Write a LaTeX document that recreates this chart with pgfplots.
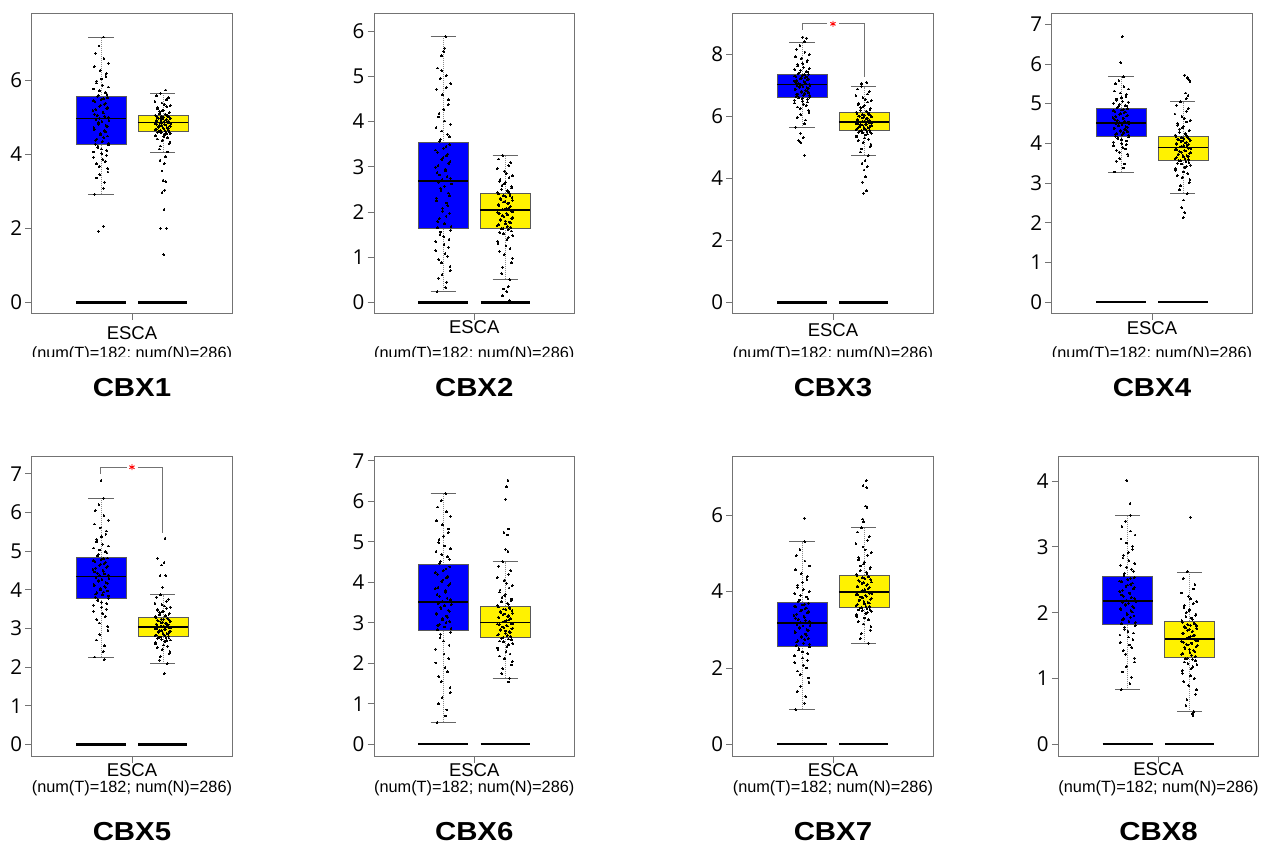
\documentclass[border=0pt]{standalone}
\usepackage{fontspec}
\setmainfont{Liberation Sans}
\newfontfamily\tickfont{Open Sans}
\usepackage{graphicx}
\usepackage{pgfplots}
\usepackage{pgfplotstable}
\pgfplotsset{compat=1.18}
\usepgfplotslibrary{statistics}

% each row: one series (d,e,d2,e2 = horizontal jitter; tK/uK = tumour values, nK/vK = normal values of panel K)
\pgfplotstableread[header=false]{
d -0.031 0.018 -0.006 0.034 -0.022 0.009 0.027 -0.038 0.002 -0.015 0.039 -0.027 0.014 -0.002 0.023 -0.034 0.031 -0.011 0.005 -0.025 0.036 -0.019 0.011 -0.040 0.028 -0.008 0.016 -0.030 0.001 0.033 -0.014 0.021 -0.036 0.007 -0.021 0.025 -0.004 0.037 -0.028 0.013
e 0.022 -0.013 0.035 -0.029 0.004 -0.037 0.017 -0.008 0.030 -0.020 0.010 -0.033 0.026 0.000 -0.024 0.038 -0.016 0.008 -0.039 0.029 -0.005 0.020 -0.031 0.013 -0.010 0.036 -0.026 0.003 0.024 -0.035 0.015 -0.018 0.032 -0.003 -0.028 0.019 0.006 -0.040 0.027 -0.012
d2 0.012 -0.024 0.035 -0.009 0.021 -0.037 0.004 0.029 -0.016 0.038 -0.029 0.007 -0.020 0.032 -0.003 0.017 -0.035 0.025 -0.012 0.040 -0.006 0.019 -0.031 0.010 -0.026 0.034 -0.001 0.023 -0.039 0.014 -0.018 0.030 -0.007 0.036 -0.023 0.003 0.026 -0.033 0.015 -0.010
e2 -0.018 0.031 -0.004 0.024 -0.036 0.009 0.037 -0.027 0.015 -0.011 0.028 -0.039 0.002 0.020 -0.023 0.033 -0.007 0.012 -0.030 0.039 -0.014 0.005 0.026 -0.034 0.017 -0.001 -0.021 0.034 -0.009 0.022 -0.038 0.011 0.030 -0.016 0.001 -0.026 0.036 -0.005 0.018 -0.032
t1 2.92 3.24 3.45 3.61 3.74 3.86 3.97 4.06 4.14 4.22 4.30 4.37 4.45 4.52 4.60 4.67 4.74 4.81 4.88 4.94 4.99 5.05 5.11 5.17 5.23 5.29 5.35 5.41 5.47 5.52 5.59 5.67 5.76 5.86 5.97 6.10 6.26 6.45 6.72 7.16
u1 3.08 3.36 3.52 3.67 3.80 3.92 4.01 4.10 4.18 4.25 4.27 4.34 4.41 4.49 4.56 4.63 4.71 4.78 4.85 4.91 4.97 5.02 5.08 5.14 5.20 5.26 5.32 5.38 5.44 5.50 5.56 5.62 5.71 5.81 5.92 6.03 6.17 6.36 6.58 6.92
n1 4.06 4.22 4.33 4.41 4.47 4.51 4.55 4.58 4.60 4.62 4.64 4.66 4.69 4.71 4.73 4.75 4.78 4.80 4.82 4.84 4.86 4.88 4.90 4.92 4.94 4.96 4.98 5.00 5.02 5.03 5.06 5.09 5.13 5.17 5.22 5.28 5.34 5.42 5.52 5.64
v1 4.14 4.28 4.37 4.44 4.49 4.53 4.56 4.59 4.61 4.63 4.65 4.67 4.70 4.72 4.74 4.76 4.77 4.79 4.81 4.83 4.85 4.87 4.89 4.91 4.93 4.95 4.97 4.99 5.01 5.04 5.05 5.08 5.11 5.15 5.19 5.25 5.31 5.38 5.47 5.58
t2 0.24 0.45 0.62 0.80 0.95 1.08 1.22 1.35 1.46 1.56 1.68 1.79 1.91 2.02 2.14 2.25 2.36 2.47 2.57 2.66 2.74 2.82 2.91 2.99 3.07 3.16 3.24 3.32 3.41 3.49 3.60 3.72 3.86 4.01 4.18 4.37 4.59 4.84 5.18 5.87
u2 0.33 0.54 0.71 0.88 1.02 1.15 1.28 1.40 1.51 1.60 1.65 1.74 1.85 1.97 2.08 2.20 2.31 2.42 2.52 2.62 2.71 2.78 2.87 2.95 3.03 3.12 3.20 3.28 3.37 3.45 3.56 3.66 3.79 3.94 4.10 4.27 4.48 4.71 5.01 5.45
n2 0.51 0.78 0.98 1.13 1.25 1.35 1.44 1.52 1.58 1.63 1.68 1.72 1.76 1.80 1.84 1.88 1.92 1.96 1.99 2.02 2.06 2.10 2.14 2.18 2.22 2.26 2.30 2.34 2.37 2.40 2.45 2.50 2.56 2.62 2.68 2.76 2.85 2.96 3.09 3.25
v2 0.64 0.88 1.06 1.19 1.30 1.40 1.48 1.55 1.61 1.64 1.66 1.70 1.74 1.78 1.82 1.86 1.90 1.94 1.97 2.01 2.05 2.08 2.12 2.16 2.20 2.24 2.28 2.32 2.36 2.41 2.43 2.47 2.53 2.59 2.65 2.72 2.80 2.90 3.02 3.17
t3 5.65 5.88 6.05 6.19 6.30 6.39 6.46 6.52 6.57 6.61 6.66 6.70 6.74 6.78 6.82 6.86 6.90 6.94 6.97 7.00 7.04 7.07 7.11 7.14 7.18 7.21 7.25 7.28 7.32 7.35 7.40 7.45 7.51 7.58 7.66 7.75 7.86 7.99 8.16 8.40
u3 5.76 5.97 6.12 6.25 6.35 6.43 6.49 6.55 6.59 6.62 6.64 6.68 6.72 6.76 6.80 6.84 6.88 6.92 6.96 6.99 7.03 7.06 7.09 7.12 7.16 7.20 7.23 7.27 7.30 7.34 7.38 7.43 7.48 7.54 7.62 7.70 7.80 7.92 8.07 8.28
n3 4.74 4.95 5.10 5.21 5.30 5.37 5.43 5.47 5.51 5.53 5.57 5.60 5.63 5.65 5.68 5.70 5.73 5.75 5.77 5.79 5.83 5.86 5.89 5.92 5.95 5.98 6.01 6.04 6.07 6.10 6.15 6.20 6.25 6.31 6.38 6.46 6.55 6.66 6.80 6.96
v3 4.85 5.03 5.16 5.26 5.34 5.40 5.45 5.49 5.52 5.54 5.56 5.58 5.61 5.64 5.66 5.69 5.72 5.74 5.76 5.80 5.82 5.85 5.88 5.90 5.93 5.97 6.00 6.03 6.06 6.11 6.13 6.17 6.22 6.28 6.34 6.42 6.50 6.60 6.72 6.88
t4 3.28 3.48 3.62 3.73 3.82 3.90 3.97 4.03 4.09 4.14 4.20 4.23 4.27 4.30 4.34 4.37 4.41 4.44 4.47 4.49 4.54 4.58 4.62 4.65 4.69 4.73 4.77 4.80 4.84 4.87 4.92 4.96 5.01 5.06 5.12 5.19 5.27 5.37 5.50 5.68
u4 3.38 3.55 3.68 3.78 3.86 3.94 4.00 4.06 4.12 4.16 4.18 4.22 4.25 4.29 4.32 4.36 4.39 4.42 4.46 4.50 4.52 4.56 4.60 4.64 4.67 4.71 4.75 4.79 4.82 4.86 4.90 4.94 4.99 5.04 5.09 5.15 5.23 5.32 5.43 5.58
n4 2.73 2.93 3.08 3.19 3.28 3.36 3.42 3.48 3.52 3.56 3.61 3.64 3.67 3.70 3.73 3.76 3.79 3.82 3.85 3.88 3.93 3.95 3.98 4.01 4.04 4.07 4.10 4.12 4.15 4.17 4.23 4.28 4.33 4.39 4.46 4.54 4.63 4.74 4.88 5.05
v4 2.83 3.01 3.14 3.24 3.32 3.39 3.45 3.50 3.54 3.57 3.59 3.62 3.66 3.69 3.72 3.75 3.78 3.81 3.84 3.87 3.91 3.94 3.97 4.00 4.03 4.06 4.09 4.11 4.14 4.18 4.21 4.25 4.31 4.36 4.42 4.50 4.58 4.68 4.81 4.96
t5 2.26 2.55 2.84 3.05 3.23 3.38 3.50 3.60 3.68 3.75 3.84 3.89 3.94 4.00 4.06 4.11 4.17 4.22 4.27 4.31 4.38 4.43 4.48 4.53 4.58 4.63 4.68 4.73 4.78 4.82 4.91 4.99 5.08 5.18 5.30 5.44 5.60 5.80 6.05 6.37
u5 2.40 2.70 2.95 3.14 3.30 3.44 3.55 3.64 3.72 3.78 3.81 3.87 3.92 3.97 4.03 4.09 4.14 4.19 4.25 4.30 4.36 4.41 4.46 4.51 4.56 4.61 4.66 4.71 4.76 4.81 4.88 4.95 5.03 5.13 5.24 5.37 5.52 5.70 5.92 6.20
n5 2.09 2.27 2.40 2.50 2.57 2.63 2.68 2.72 2.75 2.77 2.81 2.83 2.86 2.88 2.91 2.93 2.95 2.98 3.00 3.02 3.05 3.08 3.10 3.13 3.15 3.18 3.20 3.23 3.25 3.27 3.32 3.35 3.39 3.43 3.47 3.52 3.58 3.65 3.75 3.87
v5 2.18 2.34 2.45 2.54 2.60 2.66 2.70 2.74 2.76 2.78 2.80 2.82 2.85 2.87 2.90 2.92 2.94 2.97 2.99 3.01 3.04 3.06 3.09 3.11 3.14 3.16 3.19 3.21 3.24 3.26 3.30 3.33 3.37 3.41 3.45 3.49 3.55 3.61 3.70 3.81
t6 0.54 0.85 1.15 1.40 1.68 1.90 2.12 2.35 2.55 2.72 2.86 2.93 3.00 3.07 3.14 3.21 3.28 3.35 3.42 3.48 3.57 3.66 3.75 3.84 3.93 4.02 4.11 4.20 4.29 4.38 4.52 4.63 4.76 4.90 5.06 5.23 5.42 5.63 5.86 6.19
u6 0.70 1.00 1.28 1.55 1.79 2.01 2.23 2.45 2.63 2.77 2.83 2.90 2.96 3.03 3.10 3.17 3.24 3.31 3.38 3.45 3.53 3.61 3.70 3.79 3.88 3.97 4.06 4.15 4.24 4.33 4.47 4.57 4.69 4.83 4.98 5.14 5.32 5.52 5.74 6.02
n6 1.63 1.87 2.04 2.18 2.29 2.38 2.46 2.53 2.58 2.62 2.68 2.72 2.76 2.80 2.83 2.87 2.90 2.94 2.97 2.99 3.04 3.08 3.12 3.16 3.20 3.24 3.28 3.32 3.35 3.39 3.46 3.52 3.59 3.67 3.76 3.86 3.98 4.12 4.29 4.51
v6 1.75 1.96 2.11 2.23 2.33 2.42 2.49 2.55 2.60 2.64 2.66 2.70 2.74 2.78 2.82 2.85 2.89 2.92 2.95 2.98 3.02 3.06 3.10 3.14 3.18 3.22 3.26 3.30 3.34 3.37 3.43 3.49 3.55 3.63 3.71 3.81 3.92 4.05 4.20 4.40
t7 0.91 1.25 1.52 1.74 1.92 2.07 2.20 2.32 2.42 2.51 2.62 2.68 2.74 2.80 2.86 2.92 2.98 3.04 3.10 3.14 3.22 3.27 3.33 3.38 3.44 3.49 3.55 3.60 3.65 3.69 3.78 3.86 3.95 4.05 4.17 4.31 4.47 4.67 4.94 5.31
u7 1.08 1.39 1.63 1.83 2.00 2.14 2.26 2.37 2.47 2.55 2.59 2.65 2.71 2.77 2.83 2.89 2.95 3.01 3.07 3.12 3.19 3.25 3.30 3.36 3.41 3.47 3.52 3.57 3.62 3.67 3.74 3.82 3.90 4.00 4.11 4.24 4.39 4.57 4.80 5.10
n7 2.65 2.90 3.08 3.21 3.31 3.39 3.45 3.50 3.54 3.57 3.62 3.66 3.70 3.74 3.78 3.82 3.86 3.90 3.93 3.96 4.03 4.07 4.12 4.16 4.21 4.25 4.29 4.34 4.38 4.41 4.48 4.55 4.63 4.72 4.83 4.95 5.09 5.25 5.44 5.67
v7 2.77 2.99 3.15 3.26 3.35 3.42 3.48 3.52 3.56 3.58 3.60 3.64 3.68 3.72 3.76 3.80 3.84 3.88 3.92 3.95 4.01 4.05 4.10 4.14 4.18 4.23 4.27 4.31 4.36 4.40 4.45 4.51 4.59 4.67 4.77 4.89 5.02 5.17 5.34 5.56
t8 0.83 1.02 1.18 1.31 1.42 1.51 1.59 1.66 1.72 1.78 1.85 1.89 1.93 1.97 2.01 2.05 2.08 2.11 2.14 2.16 2.21 2.25 2.29 2.32 2.36 2.40 2.43 2.47 2.50 2.53 2.60 2.66 2.72 2.79 2.87 2.96 3.06 3.18 3.31 3.48
u8 0.92 1.10 1.25 1.37 1.47 1.55 1.63 1.69 1.75 1.80 1.83 1.87 1.91 1.95 1.99 2.03 2.06 2.10 2.13 2.17 2.19 2.23 2.27 2.30 2.34 2.38 2.42 2.45 2.48 2.52 2.57 2.63 2.69 2.75 2.83 2.91 3.01 3.12 3.24 3.39
n8 0.50 0.68 0.83 0.95 1.04 1.12 1.18 1.23 1.27 1.30 1.35 1.38 1.41 1.44 1.47 1.50 1.52 1.54 1.56 1.58 1.62 1.65 1.68 1.71 1.73 1.76 1.79 1.81 1.83 1.85 1.90 1.94 1.98 2.03 2.08 2.14 2.21 2.30 2.43 2.62
v8 0.59 0.76 0.89 1.00 1.08 1.15 1.21 1.25 1.29 1.31 1.33 1.37 1.40 1.43 1.45 1.48 1.51 1.53 1.55 1.57 1.61 1.64 1.66 1.69 1.72 1.75 1.77 1.80 1.82 1.84 1.88 1.92 1.96 2.00 2.05 2.11 2.17 2.25 2.36 2.52
}\rawdata
\pgfplotstabletranspose[colnames from=0]{\pts}{\rawdata}

\pgfplotsset{
  gepia/.style={scale only axis, width=200.5pt, height=300pt, xmin=0, xmax=1,
    anchor=south west,
    axis line style={draw=black!55, line width=0.9pt},
    tick align=outside, tick pos=left, major tick length=6.5pt,
    tick style={draw=black!55, line width=0.9pt},
    xtick={0.5}, xticklabels={},
    yticklabel style={font=\tickfont\fontsize{20.5}{22}\selectfont, inner sep=1pt, xshift=-2pt},
    /pgf/number format/assume math mode=true},
  pts/.style={only marks, mark=*, mark size=0.9pt, black, mark options={line width=0pt}},
  zl/.style={black, line width=2.2pt, no marks},
  capst/.style={draw=black!60, line width=0.7pt, no marks},
  brk/.style={draw=black!55, line width=0.8pt, no marks},
  bp/.style={draw=black!65, line width=0.6pt, no marks},
}

\newcommand{\tbox}[5]{%
  \addplot[zl] coordinates {(0.221,0) (0.470,0)};
  \addplot[bp,
    boxplot prepared={draw direction=y, draw position=0.3455, box extend=0.249, whisker extend=0,
      lower whisker=#1, lower quartile=#2, median=#3, upper quartile=#4, upper whisker=#5,
      every box/.style={fill=blue, draw=black!65, line width=0.6pt},
      every median/.style={draw=black, line width=1.6pt},
      every whisker/.style={draw=black!45, dash pattern=on 0.9pt off 1.1pt, line width=0.7pt}}] coordinates {};
  \addplot[capst] coordinates {(0.283,#1) (0.408,#1)};
  \addplot[capst] coordinates {(0.283,#5) (0.408,#5)};
}
\newcommand{\nbox}[5]{%
  \addplot[zl] coordinates {(0.532,0) (0.777,0)};
  \addplot[bp,
    boxplot prepared={draw direction=y, draw position=0.6545, box extend=0.249, whisker extend=0,
      lower whisker=#1, lower quartile=#2, median=#3, upper quartile=#4, upper whisker=#5,
      every box/.style={fill=yellow, draw=black!65, line width=0.6pt},
      every median/.style={draw=black, line width=1.6pt},
      every whisker/.style={draw=black!45, dash pattern=on 0.9pt off 1.1pt, line width=0.7pt}}] coordinates {};
  \addplot[capst] coordinates {(0.592,#1) (0.717,#1)};
  \addplot[capst] coordinates {(0.592,#5) (0.717,#5)};
}
\newcommand{\tpts}[2]{%
  \addplot[pts] table[x expr=0.3455+\thisrow{d}, y=#1] {\pts};
  \addplot[pts] table[x expr=0.3455+\thisrow{d2}, y=#2] {\pts};}
\newcommand{\npts}[2]{%
  \addplot[pts] table[x expr=0.6545+\thisrow{e}, y=#1] {\pts};
  \addplot[pts] table[x expr=0.6545+\thisrow{e2}, y=#2] {\pts};}

\newcommand{\esca}{\fontsize{18.5}{20}\selectfont}
\newcommand{\numf}{\fontsize{16.3}{18}\selectfont}
\newcommand{\ttl}{\bfseries\fontsize{26}{28}\selectfont}

\begin{document}
\begin{tikzpicture}
\path[use as bounding box] (0pt,0pt) rectangle (1261pt,-846pt);

% ---------------- CBX1
\begin{axis}[gepia, name=p1, at={(31.7pt,-313.3pt)}, ymin=-0.29, ymax=7.80, ytick={0,2,4,6}]
\tbox{2.92}{4.26}{4.96}{5.55}{7.16}
\nbox{4.06}{4.63}{4.85}{5.04}{5.64}
\tpts{t1}{u1}
\npts{n1}{v1}
\addplot[pts] coordinates {(0.332,1.92) (0.358,2.06)};
\addplot[pts] coordinates {(0.658,1.29) (0.643,2.00) (0.672,2.00) (0.660,2.51) (0.650,2.97) (0.664,3.03) (0.668,3.26) (0.655,3.30) (0.650,3.55) (0.661,3.75) (0.640,3.84) (0.667,3.93) (0.669,5.73)};
\end{axis}

% ---------------- CBX2
\begin{axis}[gepia, name=p2, at={(374pt,-313.3pt)}, ymin=-0.237, ymax=6.39, ytick={0,1,2,3,4,5,6}]
\tbox{0.24}{1.63}{2.69}{3.53}{5.87}
\nbox{0.51}{1.65}{2.04}{2.42}{3.25}
\tpts{t2}{u2}
\npts{n2}{v2}
\addplot[pts] coordinates {(0.352,5.62) (0.338,5.12) (0.360,4.75) (0.330,4.95) (0.348,5.55)};
\addplot[pts] coordinates {(0.670,0.35) (0.645,0.30) (0.662,0.24) (0.640,0.15) (0.675,0.05)};
\end{axis}

% ---------------- CBX3
\begin{axis}[gepia, name=p3, at={(732.7pt,-313.3pt)}, ymin=-0.345, ymax=9.32, ytick={0,2,4,6,8}]
\tbox{5.65}{6.63}{7.02}{7.37}{8.40}
\nbox{4.74}{5.55}{5.81}{6.12}{6.96}
\tpts{t3}{u3}
\npts{n3}{v3}
\addplot[pts] coordinates {(0.350,8.55) (0.368,8.52) (0.338,5.45) (0.352,5.32) (0.330,5.22) (0.340,5.15) (0.358,4.74)};
\addplot[pts] coordinates {(0.668,7.09) (0.642,7.05) (0.660,4.57) (0.645,4.49) (0.672,4.38) (0.655,4.27) (0.662,4.05) (0.647,3.88) (0.668,3.60) (0.652,3.52)};
\addplot[brk] coordinates {(0.3455,8.78) (0.3455,8.98) (0.468,8.98)};
\addplot[brk] coordinates {(0.532,8.98) (0.6545,8.98) (0.6545,7.28)};
\addplot[only marks, mark=asterisk, red, mark size=3pt, line width=0.9pt] coordinates {(0.5,8.98)};
\end{axis}

% ---------------- CBX4
\begin{axis}[gepia, name=p4, at={(1051.7pt,-313.3pt)}, ymin=-0.285, ymax=7.28, ytick={0,1,2,3,4,5,6,7}]
\tbox{3.28}{4.17}{4.51}{4.89}{5.68}
\nbox{2.73}{3.58}{3.90}{4.19}{5.05}
\tpts{t4}{u4}
\npts{n4}{v4}
\addplot[pts] coordinates {(0.352,6.69) (0.345,6.03)};
\addplot[pts] coordinates {(0.664,5.72) (0.676,5.66) (0.683,5.61) (0.690,5.56) (0.668,5.27) (0.680,5.21) (0.672,5.13) (0.658,2.57) (0.648,2.38) (0.664,2.25) (0.656,2.13)};
\end{axis}

% ---------------- CBX5
\begin{axis}[gepia, name=p5, at={(31.7pt,-756pt)}, ymin=-0.30, ymax=7.46, ytick={0,1,2,3,4,5,6,7}]
\tbox{2.26}{3.79}{4.34}{4.85}{6.37}
\nbox{2.09}{2.79}{3.03}{3.29}{3.87}
\tpts{t5}{u5}
\npts{n5}{v5}
\addplot[pts] coordinates {(0.346,6.83) (0.362,2.19)};
\addplot[pts] coordinates {(0.665,5.33) (0.628,4.81) (0.660,4.70) (0.648,4.64) (0.640,4.36) (0.668,4.37) (0.652,4.06) (0.662,1.83)};
\addplot[brk] coordinates {(0.344,7.00) (0.344,7.17) (0.473,7.17)};
\addplot[brk] coordinates {(0.528,7.17) (0.654,7.17) (0.654,5.48)};
\addplot[only marks, mark=asterisk, red, mark size=3pt, line width=0.9pt] coordinates {(0.5,7.17)};
\end{axis}

% ---------------- CBX6
\begin{axis}[gepia, name=p6, at={(374pt,-756pt)}, ymin=-0.288, ymax=7.12, ytick={0,1,2,3,4,5,6,7}]
\tbox{0.54}{2.81}{3.51}{4.44}{6.19}
\nbox{1.63}{2.65}{3.01}{3.41}{4.51}
\tpts{t6}{u6}
\npts{n6}{v6}
\addplot[pts] coordinates {(0.668,6.52) (0.660,6.36) (0.657,6.05) (0.670,5.32) (0.648,5.23) (0.665,5.17) (0.656,4.81) (0.668,4.77) (0.672,1.54)};
\end{axis}

% ---------------- CBX7
\begin{axis}[gepia, name=p7, at={(732.7pt,-756pt)}, ymin=-0.305, ymax=7.55, ytick={0,2,4,6}]
\tbox{0.91}{2.57}{3.17}{3.72}{5.31}
\nbox{2.65}{3.59}{3.99}{4.43}{5.67}
\tpts{t7}{u7}
\npts{n7}{v7}
\addplot[pts] coordinates {(0.357,5.92)};
\addplot[pts] coordinates {(0.666,6.91) (0.650,6.77) (0.668,6.72) (0.664,6.24) (0.670,6.20) (0.648,5.90) (0.652,5.83)};
\end{axis}

% ---------------- CBX8
\begin{axis}[gepia, name=p8, at={(1058.3pt,-756pt)}, ymin=-0.177, ymax=4.38, ytick={0,1,2,3,4}]
\tbox{0.83}{1.82}{2.18}{2.55}{3.48}
\nbox{0.50}{1.32}{1.60}{1.87}{2.62}
\tpts{t8}{u8}
\npts{n8}{v8}
\addplot[pts] coordinates {(0.342,4.01) (0.358,3.66)};
\addplot[pts] coordinates {(0.658,3.45) (0.668,0.47) (0.672,0.44)};
\end{axis}

% ---------------- texts, row 1
\node[anchor=base, font=\esca] at ([yshift=-26pt]p1.south) {ESCA};
\node[anchor=base, font=\esca] at ([yshift=-20pt]p2.south) {ESCA};
\node[anchor=base, font=\esca] at ([yshift=-23.4pt]p3.south) {ESCA};
\node[anchor=base, font=\esca] at ([yshift=-20.7pt]p4.south) {ESCA};
\begin{scope}
\clip (0pt,-340pt) rectangle (1261pt,-356.8pt);
\node[anchor=base, font=\numf] at ([yshift=-44.7pt]p1.south) {(num(T)=182; num(N)=286)};
\node[anchor=base, font=\numf] at ([yshift=-44.7pt]p2.south) {(num(T)=182; num(N)=286)};
\node[anchor=base, font=\numf] at ([yshift=-44.7pt]p3.south) {(num(T)=182; num(N)=286)};
\node[anchor=base, font=\numf] at ([yshift=-44.7pt]p4.south) {(num(T)=182; num(N)=286)};
\end{scope}
\node[anchor=base, font=\ttl] at ([yshift=-83.4pt]p1.south) {\scalebox{1.13}[1]{CBX1}};
\node[anchor=base, font=\ttl] at ([yshift=-83.4pt]p2.south) {\scalebox{1.13}[1]{CBX2}};
\node[anchor=base, font=\ttl] at ([yshift=-83.4pt]p3.south) {\scalebox{1.13}[1]{CBX3}};
\node[anchor=base, font=\ttl] at ([yshift=-83.4pt]p4.south) {\scalebox{1.13}[1]{CBX4}};

% ---------------- texts, row 2
\node[anchor=base, font=\esca] at ([yshift=-20.7pt]p5.south) {ESCA};
\node[anchor=base, font=\esca] at ([yshift=-20.7pt]p6.south) {ESCA};
\node[anchor=base, font=\esca] at ([yshift=-20.7pt]p7.south) {ESCA};
\node[anchor=base, font=\esca] at ([yshift=-19pt]p8.south) {ESCA};
\node[anchor=base, font=\numf] at ([yshift=-36.7pt]p5.south) {(num(T)=182; num(N)=286)};
\node[anchor=base, font=\numf] at ([yshift=-36.7pt]p6.south) {(num(T)=182; num(N)=286)};
\node[anchor=base, font=\numf] at ([yshift=-36.7pt]p7.south) {(num(T)=182; num(N)=286)};
\node[anchor=base, font=\numf] at ([yshift=-36.7pt]p8.south) {(num(T)=182; num(N)=286)};
\node[anchor=base, font=\ttl] at ([yshift=-84.5pt]p5.south) {\scalebox{1.13}[1]{CBX5}};
\node[anchor=base, font=\ttl] at ([yshift=-84.5pt]p6.south) {\scalebox{1.13}[1]{CBX6}};
\node[anchor=base, font=\ttl] at ([yshift=-84.5pt]p7.south) {\scalebox{1.13}[1]{CBX7}};
\node[anchor=base, font=\ttl] at ([yshift=-84.5pt]p8.south) {\scalebox{1.13}[1]{CBX8}};
\end{tikzpicture}
\end{document}
